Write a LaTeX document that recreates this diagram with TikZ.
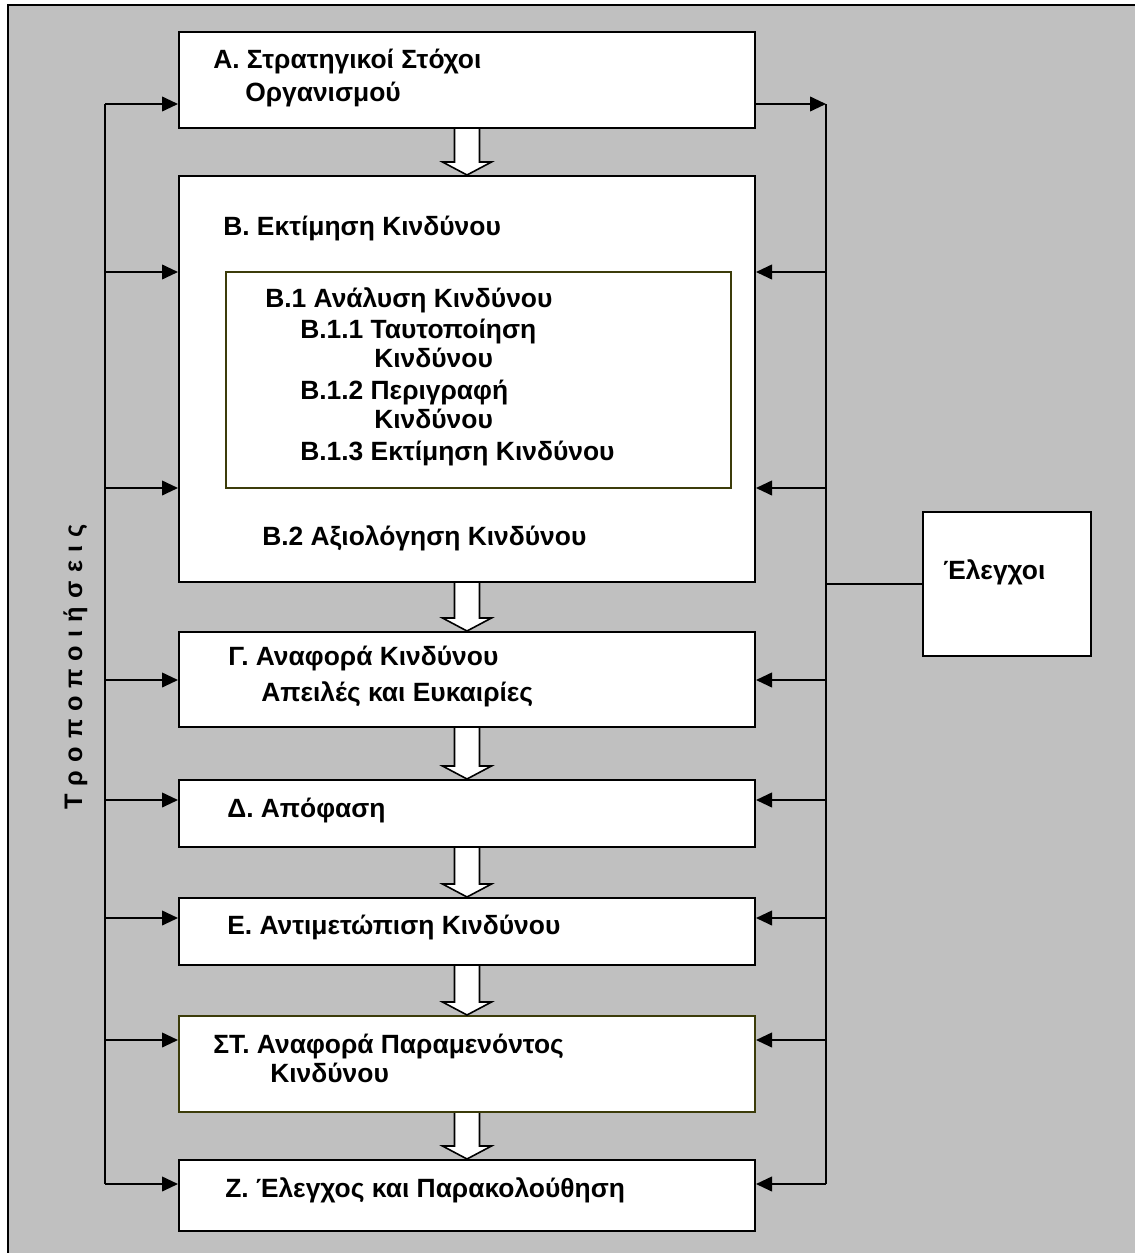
\documentclass[tikz,border=0pt]{standalone}
\usepackage{fontspec}
\setmainfont{Liberation Sans}
\newfontfamily\trackedfont[LetterSpace=33]{Liberation Sans}
\usetikzlibrary{fit,calc,arrows.meta}

\definecolor{panelgray}{RGB}{192,192,192}
\definecolor{olive}{RGB}{60,60,10}

% hollow block arrow from the bottom of one box to the top of the next
\newcommand{\flowdown}[2]{%
  \draw[hollow] ($(#1.south)+(-12.5,0)$) -- ($(#2.north)+(-12.5,-13)$)
    -- ($(#2.north)+(-24.5,-13)$) -- (#2.north)
    -- ($(#2.north)+(24.5,-13)$) -- ($(#2.north)+(12.5,-13)$)
    -- ($(#1.south)+(12.5,0)$);}

\begin{document}
\begin{tikzpicture}[x=0.75pt, y=-0.75pt,
  box/.style={draw=black, line width=1.5pt, fill=white, inner sep=0pt},
  olivebox/.style={box, draw=olive},
  innerbox/.style={draw=olive, line width=1.2pt, inner sep=0pt},
  txt/.style={anchor=base west, inner sep=0pt, font=\bfseries\fontsize{19.8}{23}\selectfont},
  conn/.style={line width=1.4pt},
  arr/.style={conn, -{Triangle[length=12pt,width=11pt]}},
  hollow/.style={draw=black, line width=1.2pt, fill=white, line join=miter},
  frame/.style={line width=2pt}]

\useasboundingbox (0,0) rectangle (1135,1253);
\fill[panelgray] (8,5) rectangle (1135,1253);
\draw[frame] (1135,5) -- (8,5) -- (8,1253);

% process boxes
\node[box, fit={(179,32) (755,128)}] (A) {};
\node[box, fit={(179,176) (755,582)}] (B) {};
\node[innerbox, fit={(226,272) (731,488)}] (B1) {};
\node[box, fit={(179,632) (755,727)}] (G) {};
\node[box, fit={(179,780) (755,847)}] (D) {};
\node[box, fit={(179,898) (755,965)}] (E) {};
\node[olivebox, fit={(179,1016) (755,1112)}] (ST) {};
\node[box, fit={(179,1160) (755,1231)}] (Z) {};
\node[box, fit={(923,512) (1091,656)}] (CTRL) {};

% box texts
\node[txt] (tA1) at (213,68) {Α. Στρατηγικοί Στόχοι};
\node[txt] (tA2) at (245,101) {Οργανισμού};
\node[txt] (tB) at (223,235) {Β. Εκτίμηση Κινδύνου};
\node[txt] (tB1) at (265,307) {Β.1 Ανάλυση Κινδύνου};
\node[txt] (tB11) at (300,338) {Β.1.1 Ταυτοποίηση};
\node[txt] (tB11b) at (374,367) {Κινδύνου};
\node[txt] (tB12) at (300,399) {Β.1.2 Περιγραφή};
\node[txt] (tB12b) at (374,428) {Κινδύνου};
\node[txt] (tB13) at (300,460) {Β.1.3 Εκτίμηση Κινδύνου};
\node[txt] (tB2) at (262,545) {Β.2 Αξιολόγηση Κινδύνου};
\node[txt] (tG1) at (228,665) {Γ. Αναφορά Κινδύνου};
\node[txt] (tG2) at (261,701) {Απειλές και Ευκαιρίες};
\node[txt] (tD) at (227,817) {Δ. Απόφαση};
\node[txt] (tE) at (227,934) {Ε. Αντιμετώπιση Κινδύνου};
\node[txt] (tST1) at (213,1053) {ΣΤ. Αναφορά Παραμενόντος};
\node[txt] (tST2) at (270,1082) {Κινδύνου};
\node[txt] (tZ) at (225,1197) {Ζ. Έλεγχος και Παρακολούθηση};
\node[txt] (tC) at (943,579) {Έλεγχοι};

% side label of the modifications loop
\node[rotate=90, anchor=base, inner sep=0pt,
      font=\trackedfont\bfseries\fontsize{19}{22}\selectfont] (mods) at (82,667) {Τροποποιήσεις};

% flow between the stages
\flowdown{A}{B}
\flowdown{B}{G}
\flowdown{G}{D}
\flowdown{D}{E}
\flowdown{E}{ST}
\flowdown{ST}{Z}

% feedback buses
\coordinate (Ltop) at (105,104);
\coordinate (Lbot) at (105,1184);
\coordinate (Rtop) at (826,104);
\coordinate (Rbot) at (826,1184);
\draw[conn] (Ltop) -- (Lbot);
\draw[conn] (Rtop) -- (Rbot);

\foreach \yy/\tgt in {104/A, 272/B, 488/B, 680/G, 800/D, 918/E, 1040/ST, 1184/Z}{
  \coordinate (lp) at (105,\yy);
  \draw[arr] (lp) -- (lp -| \tgt.west);
}
\draw[arr] (A.east |- Rtop) -- (Rtop);
\foreach \yy/\tgt in {272/B, 488/B, 680/G, 800/D, 918/E, 1040/ST, 1184/Z}{
  \coordinate (rp) at (826,\yy);
  \draw[arr] (rp) -- (rp -| \tgt.east);
}

% link to the controls box
\coordinate (Rmid) at (826,584);
\draw[conn] (Rmid) -- (Rmid -| CTRL.west);
\end{tikzpicture}
\end{document}
